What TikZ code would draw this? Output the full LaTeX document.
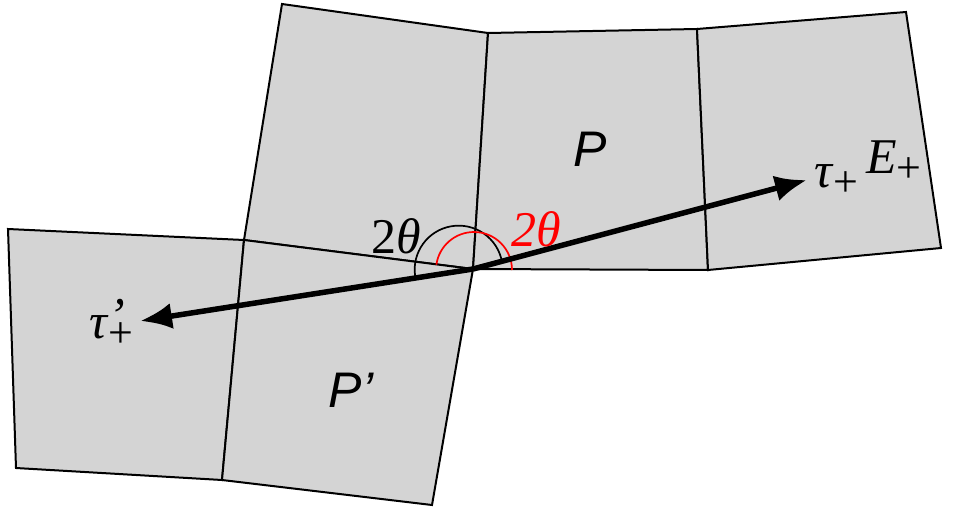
\documentclass[tikz,border=0pt]{standalone}
\usepackage{fontspec}
\setmainfont{Liberation Serif}
\newfontfamily\arialfont{Liberation Sans}
\usetikzlibrary{arrows.meta}
\definecolor{facegray}{RGB}{212,212,212}
\newcommand{\subplus}{\raisebox{-9pt}{\fontsize{44}{48}\selectfont +}}
\tikzset{
  face/.style={fill=facegray, draw=black, line width=2pt, line join=miter},
  bigarrow/.style={line width=5.5pt, -{Latex[length=32pt,width=26pt]}},
  lbl/.style={inner sep=0pt, font=\fontsize{50}{54}\selectfont},
  plbl/.style={inner sep=0pt, font=\arialfont\itshape\fontsize{50}{54}\selectfont},
  anglearc/.style={line width=1.7pt}
}
\begin{document}
\begin{tikzpicture}[x=1pt,y=-1pt]
\useasboundingbox (0,0) rectangle (955,514);
% corner coordinates
\coordinate (a1) at (282,4);
\coordinate (a2) at (488,33);
\coordinate (a3) at (697,29);
\coordinate (a4) at (906,12);
\coordinate (a5) at (941,248);
\coordinate (a6) at (708,270);
\coordinate (o) at (473,269);
\coordinate (b1) at (244,240);
\coordinate (c1) at (8,229);
\coordinate (c2) at (16,468);
\coordinate (c3) at (222,480);
\coordinate (c4) at (432,505);
% faces
\draw[face] (a1) -- (a2) -- (o) -- (b1) -- cycle;
\draw[face] (a2) -- (a3) -- (a6) -- (o) -- cycle;
\draw[face] (a3) -- (a4) -- (a5) -- (a6) -- cycle;
\draw[face] (c1) -- (b1) -- (c3) -- (c2) -- cycle;
\draw[face] (b1) -- (o) -- (c4) -- (c3) -- cycle;
% angle arcs
\draw[anglearc] (502,262) arc[start angle=-10, end angle=-188, radius=44];
\draw[anglearc, red] (512,270) arc[start angle=0, end angle=-172, radius=38];
% arrows
\coordinate (tipR) at (807,180);
\coordinate (tipL) at (140,321);
\draw[bigarrow] (o) -- (tipR);
\draw[bigarrow] (o) -- (tipL);
% labels
\node[lbl] (t2a) at (396,236) {2\textit{θ}};
\node[lbl, text=red] (t2b) at (536,229) {\textit{2θ}};
\node[lbl, anchor=west] (tp) at (814,181) {\textit{τ}\subplus};
\node[lbl, anchor=west] (ep) at (866,162) {\textit{E}\subplus};
\node[lbl, anchor=east] (tpp) at (134,323) {\textit{τ}\rlap{\raisebox{6pt}{\textit{’}}}\subplus};
\node[plbl] (P) at (590,149) {P};
\node[plbl] (Pp) at (351,390) {P’};
\end{tikzpicture}
\end{document}
